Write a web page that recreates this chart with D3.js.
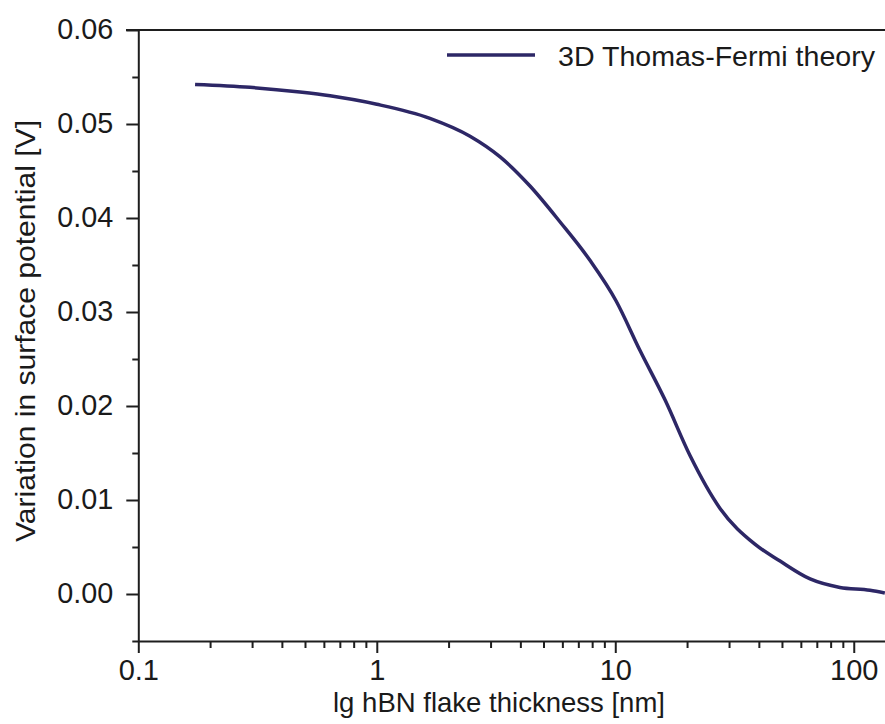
<!DOCTYPE html>
<html>
<head>
<meta charset="utf-8">
<script src="https://cdn.jsdelivr.net/npm/d3@7/dist/d3.min.js"></script>
<style>
  html, body { margin: 0; padding: 0; background: #ffffff; }
  svg { display: block; }
  text { font-family: "Liberation Sans", Arial, Helvetica, sans-serif; fill: #1a1a1a; }
</style>
</head>
<body>
<svg id="chart" width="885" height="724"></svg>
<script>
// ---- data ----
const thickness = [0.173, 0.294, 0.476, 0.637, 1.0, 1.67, 2.46, 3.29, 4.39, 5.86, 7.83, 10.07, 12.7, 16.2, 20.6, 27.5, 38.5, 49.1, 65.6, 87.5, 117, 135];
const potential = [0.0542, 0.0539, 0.0534, 0.0530, 0.0521, 0.0506, 0.0487, 0.0465, 0.0434, 0.0396, 0.0355, 0.0312, 0.0259, 0.0206, 0.0147, 0.0091, 0.0053, 0.0035, 0.0016, 0.0007, 0.0004, 0.0001];
const seriesName = "3D Thomas-Fermi theory";
const xMajorTicks = [0.1, 1, 10, 100];
const xTickLabels = ["0.1", "1", "10", "100"];
const xMinorTicks = [0.2,0.3,0.4,0.5,0.6,0.7,0.8,0.9, 2,3,4,5,6,7,8,9, 20,30,40,50,60,70,80,90];
const yMajorTicks = [0.00, 0.01, 0.02, 0.03, 0.04, 0.05, 0.06];
const yTickLabels = ["0.00", "0.01", "0.02", "0.03", "0.04", "0.05", "0.06"];
const yMinorTicks = [-0.005, 0.005, 0.015, 0.025, 0.035, 0.045, 0.055];
const xTitle = "lg hBN flake thickness [nm]";
const yTitle = "Variation in surface potential [V]";

const svg = d3.select("#chart");
const lineColor = "#2d2766";
const axisColor = "#1e1e1e";
const fontStack = "'Liberation Sans', Arial, sans-serif";

const x = d3.scaleLog().domain([0.1, 136]).range([138.3, 885.6]);
const y = d3.scaleLinear().domain([-0.005, 0.06]).range([641, 30]);

// top frame line
svg.append("line")
  .attr("x1", 126).attr("x2", 885).attr("y1", y(0.06)).attr("y2", y(0.06))
  .attr("stroke", axisColor).attr("stroke-width", 2);

// y axis
const yAxisMajor = d3.axisLeft(y).tickValues(yMajorTicks).tickSize(12).tickPadding(13)
  .tickFormat((d, i) => yTickLabels[i]).tickSizeOuter(0);
const gy = svg.append("g").attr("transform", `translate(${x(0.1)},0)`).call(yAxisMajor);
gy.select(".domain").attr("stroke", axisColor).attr("stroke-width", 2);
gy.selectAll(".tick line").attr("stroke", axisColor).attr("stroke-width", 2);
gy.selectAll(".tick text").attr("font-size", 29).attr("dy", "0.3em")
  .attr("textLength", 56).attr("lengthAdjust", "spacingAndGlyphs")
  .style("font-family", fontStack).attr("fill", "#1a1a1a");

const yAxisMinor = d3.axisLeft(y).tickValues(yMinorTicks).tickSize(6).tickFormat("").tickSizeOuter(0);
const gy2 = svg.append("g").attr("transform", `translate(${x(0.1)},0)`).call(yAxisMinor);
gy2.select(".domain").remove();
gy2.selectAll(".tick line").attr("stroke", axisColor).attr("stroke-width", 2);

// x axis
const xAxisMajor = d3.axisBottom(x).tickValues(xMajorTicks).tickSize(12).tickPadding(6)
  .tickFormat((d, i) => xTickLabels[i]).tickSizeOuter(0);
const gx = svg.append("g").attr("transform", `translate(0,${y(-0.005)})`).call(xAxisMajor);
gx.select(".domain").attr("stroke", axisColor).attr("stroke-width", 2);
gx.selectAll(".tick line").attr("stroke", axisColor).attr("stroke-width", 2);
gx.selectAll(".tick text").attr("font-size", 29)
  .style("font-family", fontStack).attr("fill", "#1a1a1a");

const xAxisMinor = d3.axisBottom(x).tickValues(xMinorTicks).tickSize(7).tickFormat("").tickSizeOuter(0);
const gx2 = svg.append("g").attr("transform", `translate(0,${y(-0.005)})`).call(xAxisMinor);
gx2.select(".domain").remove();
gx2.selectAll(".tick line").attr("stroke", axisColor).attr("stroke-width", 2);

// curve
const pts = thickness.map((t, i) => [t, potential[i]]);
const line = d3.line().x(d => x(d[0])).y(d => y(d[1])).curve(d3.curveMonotoneX);
svg.append("path").datum(pts)
  .attr("d", line).attr("fill", "none")
  .attr("stroke", lineColor).attr("stroke-width", 3.5)
  .attr("stroke-linejoin", "round").attr("stroke-linecap", "butt");

// legend
svg.append("line").attr("x1", 447).attr("x2", 535).attr("y1", 55).attr("y2", 55)
  .attr("stroke", lineColor).attr("stroke-width", 3.5);
svg.append("text").attr("x", 558).attr("y", 66).attr("font-size", 28)
  .attr("textLength", 317).attr("lengthAdjust", "spacingAndGlyphs")
  .text(seriesName);

// axis titles
svg.append("text").attr("x", 499).attr("y", 712).attr("text-anchor", "middle")
  .attr("font-size", 28.5).attr("textLength", 332).attr("lengthAdjust", "spacingAndGlyphs")
  .text(xTitle);
svg.append("text").attr("transform", "translate(35,331) rotate(-90)")
  .attr("text-anchor", "middle").attr("font-size", 28.5)
  .attr("textLength", 422).attr("lengthAdjust", "spacingAndGlyphs")
  .text(yTitle);
</script>
</body>
</html>
